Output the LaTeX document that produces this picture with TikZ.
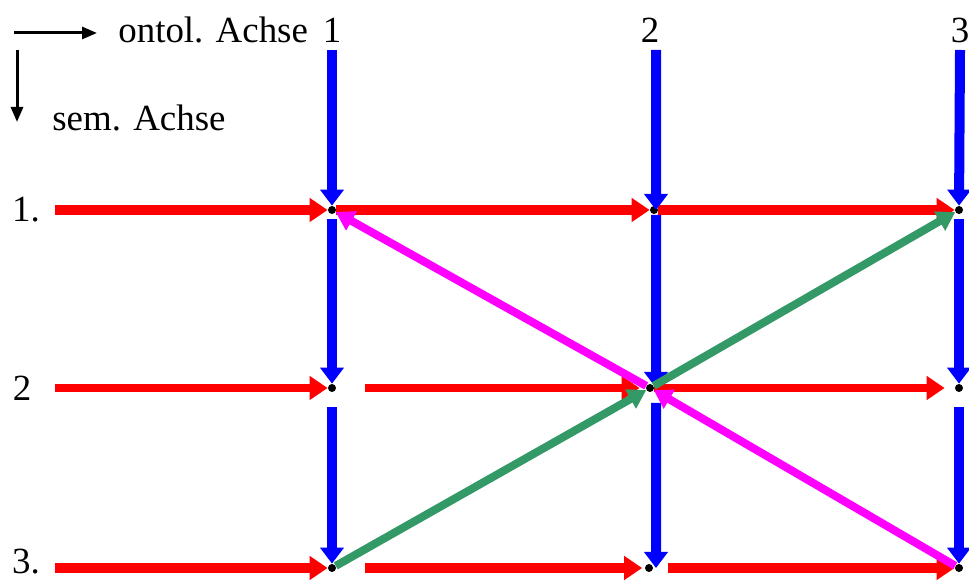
\documentclass[tikz,border=0pt]{standalone}
\usepackage{fontspec}
\setmainfont{Liberation Serif}
\usetikzlibrary{arrows.meta,positioning,calc}
\definecolor{axred}{HTML}{FF0000}
\definecolor{axblue}{HTML}{0000FF}
\definecolor{axpink}{HTML}{FF00FF}
\definecolor{axgreen}{HTML}{339966}
\tikzset{
  lbl/.style={inner sep=0pt, font=\fontsize{21}{25}\selectfont},
  dot/.style={circle, fill=black, inner sep=0pt, minimum size=0.16cm},
  redarrow/.style={-{Triangle[length=0.36cm,width=0.46cm]}, line width=0.2cm, draw=axred},
  bluearrow/.style={-{Triangle[length=0.32cm,width=0.46cm]}, line width=0.2cm, draw=axblue},
  diag/.style={-{Triangle[length=0.36cm,width=0.42cm]}, line width=0.16cm},
  axarrow/.style={-{Triangle[length=0.3cm,width=0.24cm]}, line width=0.06cm, draw=black}
}

\begin{document}
\begin{tikzpicture}
  \useasboundingbox (0,0) rectangle (19.38,11.64);

  % Achsen-Legende
  \coordinate (hs) at (0.28,10.98);
  \coordinate (he) at (1.94,10.98);
  \coordinate (vs) at (0.34,10.64);
  \coordinate (ve) at (0.34,9.2);
  \draw[axarrow] (hs) -- (he);
  \draw[axarrow] (vs) -- (ve);
  \node[lbl, anchor=west] (ontol) at (2.36,11.04) {ontol. Achse};
  \node[lbl, anchor=west] (sem) at (1.04,9.28) {sem. Achse};

  % Spalten- und Zeilenbeschriftung
  \node[lbl] (k1) at (6.64,11.04) {1};
  \node[lbl] (k2) at (13.0,11.04) {2};
  \node[lbl] (k3) at (19.2,11.04) {3};
  \node[lbl] (z1) at (0.52,7.44) {1.};
  \node[lbl] (z2) at (0.44,3.88) {2};
  \node[lbl, anchor=base] (z3) at (0.52,0.16) {3.};

  % Gitterpunkte
  \node[dot] (p11) at (6.64,7.44) {};
  \node[dot] (p21) at (13.08,7.44) {};
  \node[dot] (p31) at (19.18,7.44) {};
  \node[dot] (p12) at (6.64,3.88) {};
  \node[dot] (p22) at (13.0,3.88) {};
  \node[dot] (p32) at (19.18,3.88) {};
  \node[dot] (p13) at (6.64,0.28) {};
  \node[dot] (p23) at (12.98,0.28) {};
  \node[dot] (p33) at (19.18,0.28) {};

  \coordinate (r1) at (1.1,7.44);
  \coordinate (r2) at (1.1,3.88);
  \coordinate (r3) at (1.1,0.28);
  \coordinate (c1) at (6.64,10.64);
  \coordinate (c2) at (13.12,10.64);
  \coordinate (c3) at (19.2,10.64);

  % rote Zeilen
  \draw[redarrow] (r1) -- (p11);
  \draw[redarrow] (p11) -- (p21);
  \draw[redarrow] (p21) -- (p31);
  \draw[redarrow, line width=0.17cm] (r2) -- (p12);
  \draw[redarrow, line width=0.17cm, shorten <=0.58cm, shorten >=0.12cm] (p12) -- (p22);
  \draw[redarrow, line width=0.17cm, shorten >=0.2cm] (p22) -- (p32);
  \draw[redarrow] (r3) -- (p13);
  \draw[redarrow, shorten <=0.58cm, shorten >=0.05cm] (p13) -- (p23);
  \draw[redarrow, shorten <=0.3cm] (p23) -- (p33);

  % blaue Spalten
  \draw[bluearrow] (c1) -- (p11);
  \draw[bluearrow, shorten <=0.1cm] (p11) -- (p12);
  \draw[bluearrow, shorten <=0.3cm] (p12) -- (p13);
  \draw[bluearrow] (c2) -- ($(p21)+(0.04,0)$);
  \draw[bluearrow, shorten <=0.1cm] ($(p21)+(0.04,0)$) -- ($(p22)+(0.12,0)$);
  \draw[bluearrow, shorten <=0.3cm] ($(p22)+(0.12,0)$) -- ($(p23)+(0.14,0)$);
  \draw[bluearrow] (c3) -- (p31);
  \draw[bluearrow, shorten <=0.1cm] (p31) -- (p32);
  \draw[bluearrow, shorten <=0.3cm] (p32) -- (p33);

  % Diagonalen
  \draw[diag, draw=axpink] (p33) -- (p22);
  \draw[diag, draw=axpink] (p22) -- (p11);
  \draw[diag, draw=axgreen] (p13) -- (p22);
  \draw[diag, draw=axgreen] (p22) -- (p31);
\end{tikzpicture}
\end{document}
